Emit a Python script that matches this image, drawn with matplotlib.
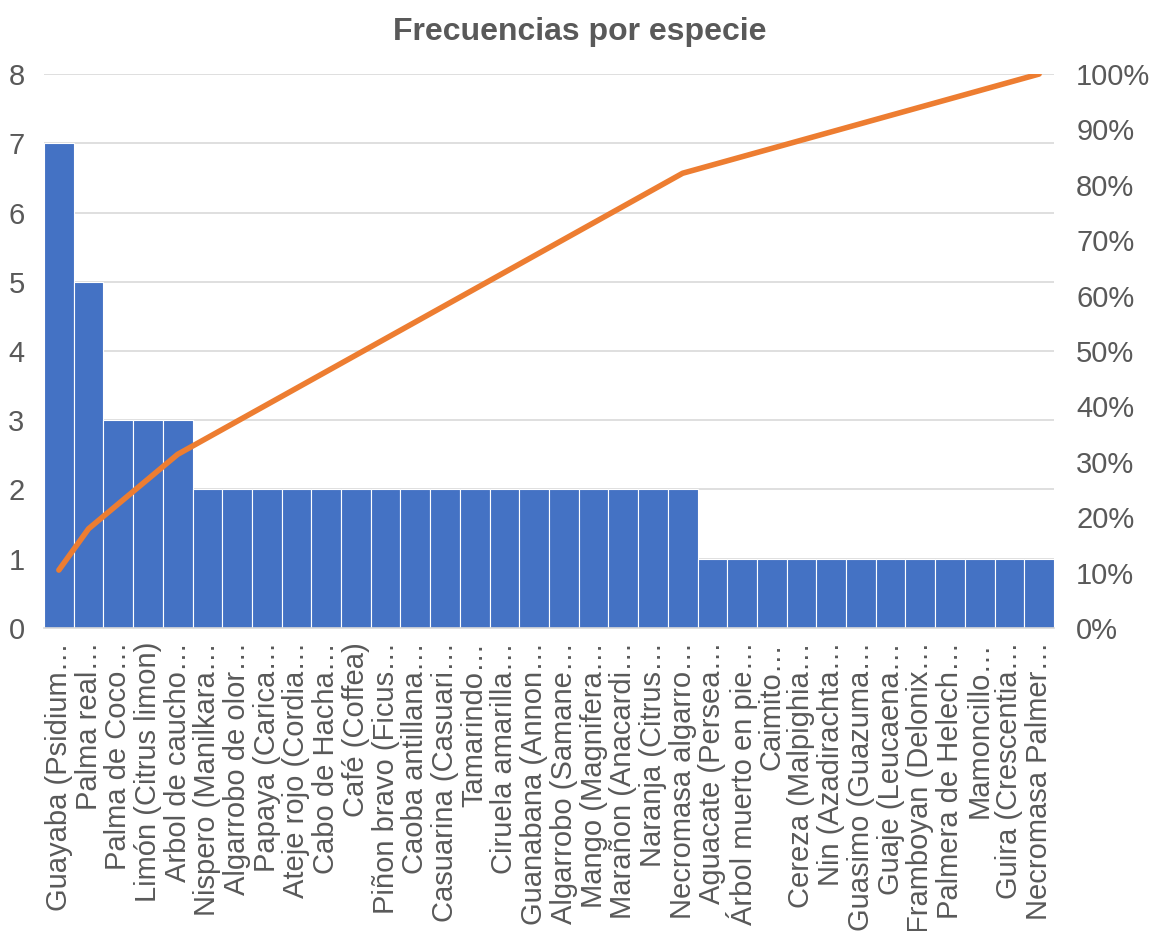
import matplotlib
matplotlib.use("Agg")
import matplotlib.pyplot as plt
import numpy as np
from matplotlib.ticker import PercentFormatter

especies = [
    "Guayaba (Psidium…", "Palma real…", "Palma de Coco…", "Limón (Citrus limon)",
    "Arbol de caucho…", "Nispero (Manilkara…", "Algarrobo de olor…", "Papaya (Carica…",
    "Ateje rojo (Cordia…", "Cabo de Hacha…", "Café (Coffea)", "Piñon bravo (Ficus…",
    "Caoba antillana…", "Casuarina (Casuari…", "Tamarindo…", "Ciruela amarilla…",
    "Guanabana (Annon…", "Algarrobo (Samane…", "Mango (Magnifera…", "Marañon (Anacardi…",
    "Naranja (Citrus…", "Necromasa algarro…", "Aguacate (Persea…", "Árbol muerto en pie…",
    "Caimito…", "Cereza (Malpighia…", "Nin (Azadirachta…", "Guasimo (Guazuma…",
    "Guaje (Leucaena…", "Framboyan (Delonix…", "Palmera de Helech…", "Mamoncillo…",
    "Guira (Crescentia…", "Necromasa Palmer…",
]
frecuencias = [7, 5, 3, 3, 3] + [2] * 17 + [1] * 12

freq = np.array(frecuencias, dtype=float)
acum = np.cumsum(freq) / freq.sum() * 100

plt.rcParams['font.family'] = ['Liberation Sans', 'DejaVu Sans']
gray = '#595959'

fig = plt.figure(figsize=(11.49, 9.31), dpi=100)
ax = fig.add_axes([0.0383, 0.3255, 0.8790, 0.5950])
x = np.arange(len(especies))
ax.bar(x, freq, width=1.0, color='#4472C4', edgecolor='white', linewidth=0.8, zorder=2)
ax.set_xlim(-0.5, len(especies) - 0.5)
ax.set_ylim(0, 8)
ax.set_yticks(range(0, 9))
ax.yaxis.grid(True, color='#D9D9D9', linewidth=1.2, zorder=0)
ax.set_axisbelow(True)
for s in ['top', 'left', 'right']:
    ax.spines[s].set_visible(False)
ax.spines['bottom'].set_color('#D9D9D9')
ax.spines['bottom'].set_linewidth(1.2)
ax.tick_params(axis='both', length=0, colors=gray, labelsize=21)
ax.tick_params(axis='y', pad=14)
ax.set_xticks(x)
ax.set_xticklabels(especies, rotation=90, fontsize=21, color=gray, va='top', ha='center')
ax.tick_params(axis='x', pad=10)

ax2 = ax.twinx()
ax2.plot(x, acum, color='#ED7D31', linewidth=4, solid_capstyle='round', zorder=3)
ax2.set_ylim(0, 100)
ax2.set_yticks(range(0, 101, 10))
ax2.yaxis.set_major_formatter(PercentFormatter(decimals=0))
ax2.tick_params(axis='y', length=0, colors=gray, labelsize=21, pad=16)
for s in ax2.spines.values():
    s.set_visible(False)

fig.suptitle("Frecuencias por especie", x=0.505, y=0.982, fontsize=23, fontweight='bold', color=gray)

fig.savefig("out.png", dpi=100)
